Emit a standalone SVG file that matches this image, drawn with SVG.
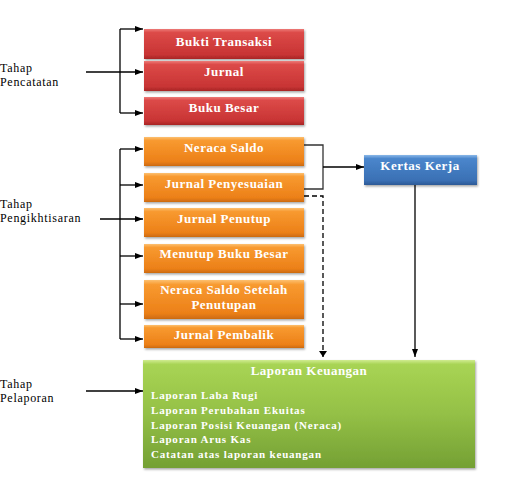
<svg xmlns="http://www.w3.org/2000/svg" width="521" height="480" viewBox="0 0 521 480">
<defs>
<linearGradient id="gR" x1="0" y1="0" x2="0" y2="1"><stop offset="0" stop-color="#ec7a78"/><stop offset="0.12" stop-color="#dc4a48"/><stop offset="0.85" stop-color="#c83434"/><stop offset="1" stop-color="#a82424"/></linearGradient>
<linearGradient id="gO" x1="0" y1="0" x2="0" y2="1"><stop offset="0" stop-color="#fcc070"/><stop offset="0.12" stop-color="#f89a30"/><stop offset="0.85" stop-color="#ec8018"/><stop offset="1" stop-color="#cc6a10"/></linearGradient>
<linearGradient id="gB" x1="0" y1="0" x2="0" y2="1"><stop offset="0" stop-color="#8ab8e8"/><stop offset="0.12" stop-color="#4a86cc"/><stop offset="0.85" stop-color="#3a70b4"/><stop offset="1" stop-color="#2c5a96"/></linearGradient>
<linearGradient id="gG" x1="0" y1="0" x2="0" y2="1"><stop offset="0" stop-color="#d0ec90"/><stop offset="0.04" stop-color="#a8d454"/><stop offset="0.5" stop-color="#94c046"/><stop offset="1" stop-color="#74a034"/></linearGradient>
<filter id="sh" x="-5%" y="-10%" width="110%" height="130%"><feDropShadow dx="1" dy="1.5" stdDeviation="1" flood-color="#000" flood-opacity="0.35"/></filter>
<marker id="ah" markerWidth="8" markerHeight="6" refX="8" refY="3" orient="auto" markerUnits="userSpaceOnUse"><path d="M0,0 L8,3 L0,6 z" fill="#000"/></marker>
</defs>
<style>
.bx{filter:url(#sh);}
.t{font-family:"Liberation Serif","Times New Roman",serif;font-weight:bold;font-size:13px;letter-spacing:0.5px;fill:#fff;text-anchor:middle;}
.tl{font-family:"Liberation Serif","Times New Roman",serif;font-weight:bold;font-size:11px;letter-spacing:0.8px;fill:#fff;}
.lab{font-family:"Liberation Serif","Times New Roman",serif;font-size:12px;letter-spacing:0.7px;fill:#000;}
.c{fill:none;stroke:#000;stroke-width:1.3;}
.d{fill:none;stroke:#000;stroke-width:1.3;stroke-dasharray:5,3;}
</style>
<g id="connectors">
<path class="c" d="M120,113 V29" />
<path class="c" d="M120,29 H143" marker-end="url(#ah)"/>
<path class="c" d="M86,72 H143" marker-end="url(#ah)"/>
<path class="c" d="M120,113 H143" marker-end="url(#ah)"/>
<path class="c" d="M120,149 V339" />
<path class="c" d="M120,149 H143" marker-end="url(#ah)"/>
<path class="c" d="M120,185 H143" marker-end="url(#ah)"/>
<path class="c" d="M100,219 H143" marker-end="url(#ah)"/>
<path class="c" d="M120,256 H143" marker-end="url(#ah)"/>
<path class="c" d="M120,304 H143" marker-end="url(#ah)"/>
<path class="c" d="M120,339 H143" marker-end="url(#ah)"/>
<path class="c" d="M86,391 H143" marker-end="url(#ah)"/>
<path class="c" d="M304,145 H323 V189 H304" style="stroke:#333"/>
<path class="c" d="M323,167 H364" marker-end="url(#ah)"/>
<path class="d" d="M304,196 H323 V357"/>
<path d="M319,351 L323,357 L327,351 z" fill="#000"/>
<path class="c" d="M415,185 V357" marker-end="url(#ah)"/>
</g>
<g id="labels">
<text class="lab" x="0" y="72">Tahap</text>
<text class="lab" x="0" y="86">Pencatatan</text>
<text class="lab" x="0" y="208">Tahap</text>
<text class="lab" x="0" y="222">Pengikhtisaran</text>
<text class="lab" x="0" y="388">Tahap</text>
<text class="lab" x="0" y="402">Pelaporan</text>
</g>
<g id="bukti-transaksi"><rect class="bx" x="144" y="29" width="160" height="30" fill="url(#gR)"/><text class="t" x="224" y="46">Bukti Transaksi</text></g>
<g id="jurnal"><rect class="bx" x="144" y="61" width="160" height="30" fill="url(#gR)"/><text class="t" x="224" y="76">Jurnal</text></g>
<g id="buku-besar"><rect class="bx" x="144" y="97" width="160" height="28" fill="url(#gR)"/><text class="t" x="224" y="112">Buku Besar</text></g>
<g id="neraca-saldo"><rect class="bx" x="144" y="137" width="160" height="29" fill="url(#gO)"/><text class="t" x="224" y="152">Neraca Saldo</text></g>
<g id="jurnal-penyesuaian"><rect class="bx" x="144" y="173" width="160" height="29" fill="url(#gO)"/><text class="t" x="224" y="188">Jurnal Penyesuaian</text></g>
<g id="jurnal-penutup"><rect class="bx" x="144" y="208" width="160" height="29" fill="url(#gO)"/><text class="t" x="224" y="223">Jurnal Penutup</text></g>
<g id="menutup-buku-besar"><rect class="bx" x="144" y="244" width="160" height="29" fill="url(#gO)"/><text class="t" x="224" y="258">Menutup Buku Besar</text></g>
<g id="neraca-saldo-setelah-penutupan"><rect class="bx" x="144" y="280" width="160" height="39" fill="url(#gO)"/><text class="t" x="224" y="294">Neraca Saldo Setelah</text><text class="t" x="224" y="309">Penutupan</text></g>
<g id="jurnal-pembalik"><rect class="bx" x="144" y="325" width="160" height="23" fill="url(#gO)"/><text class="t" x="224" y="339">Jurnal Pembalik</text></g>
<g id="kertas-kerja"><rect class="bx" x="364" y="155" width="113" height="30" fill="url(#gB)"/><text class="t" x="420" y="170">Kertas Kerja</text></g>
<g id="laporan-keuangan"><rect class="bx" x="143" y="360" width="332" height="108" fill="url(#gG)"/>
<text class="t" x="309" y="375">Laporan Keuangan</text>
<text class="tl" x="151" y="399">Laporan Laba Rugi</text>
<text class="tl" x="151" y="414">Laporan Perubahan Ekuitas</text>
<text class="tl" x="151" y="429">Laporan Posisi Keuangan (Neraca)</text>
<text class="tl" x="151" y="443">Laporan Arus Kas</text>
<text class="tl" x="151" y="458">Catatan atas laporan keuangan</text>
</g>
</svg>
